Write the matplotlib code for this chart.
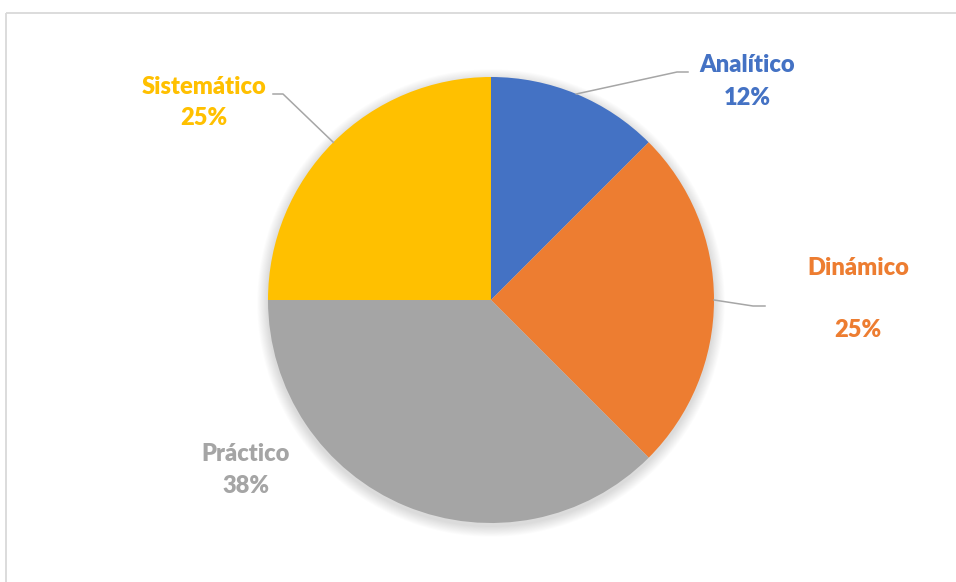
import numpy as np
import matplotlib
matplotlib.use("Agg")
import matplotlib.pyplot as plt
from matplotlib.patches import Circle

categories = ["Analítico", "Dinámico", "Práctico", "Sistemático"]
values = [12.5, 25, 37.5, 25]
pct_labels = ["12%", "25%", "38%", "25%"]
colors = ["#4472C4", "#ED7D31", "#A5A5A5", "#FFC000"]

W, H = 956, 582
fig = plt.figure(figsize=(W / 100, H / 100), dpi=100)
ax = fig.add_axes([0, 0, 1, 1])
ax.set_xlim(0, W)
ax.set_ylim(0, H)
ax.set_aspect("equal")
ax.axis("off")

def Y(y):
    return H - y

cx, cy, R = 491, Y(300), 223

# soft shadow
for k in range(12, 0, -1):
    ax.add_patch(Circle((cx, cy - 3), R + k * 0.9, color="#000000", alpha=0.012, lw=0, zorder=1))

wedges, _ = ax.pie(values, colors=colors, startangle=90, counterclock=False,
                   center=(cx, cy), radius=R, frame=True,
                   wedgeprops=dict(linewidth=0, zorder=2))
ax.set_xlim(0, W)
ax.set_ylim(0, H)
ax.axis("off")

# border (top and left)
ax.plot([6, W], [Y(13), Y(13)], color="#D9D9D9", lw=1.3, zorder=0, solid_capstyle="butt")
ax.plot([6, 6], [Y(13), 0], color="#D9D9D9", lw=1.3, zorder=0, solid_capstyle="butt")

def mid_point(i):
    w = wedges[i]
    ang = np.deg2rad((w.theta1 + w.theta2) / 2)
    return cx + R * np.cos(ang), cy + R * np.sin(ang)

# label layout (pixel coords, y from top)
label_pos = {
    0: ((747, 65), (747, 98)),
    1: ((858, 268), (858, 330)),
    2: ((246, 454), (246, 486)),
    3: ((204, 87), (204, 118)),
}
leaders = {
    0: [(677, 72), (688, 72)],
    1: [(753, 306), (765, 306)],
    3: [(283, 94), (273, 94)],
}

for i, (name, pct, col) in enumerate(zip(categories, pct_labels, colors)):
    (nx, ny), (px, py) = label_pos[i]
    ax.text(nx, Y(ny), name, color=col, fontsize=17, fontweight="heavy",
            family=["Lato", "DejaVu Sans"], ha="center", va="center", zorder=5)
    ax.text(px, Y(py), pct, color=col, fontsize=17, fontweight="heavy",
            family=["Lato", "DejaVu Sans"], ha="center", va="center", zorder=5)
    if i in leaders:
        mx, my = mid_point(i)
        xs = [mx] + [p[0] for p in leaders[i]]
        ys = [my] + [Y(p[1]) for p in leaders[i]]
        ax.plot(xs, ys, color="#A6A6A6", lw=1.1, zorder=3)

fig.savefig("out.png", dpi=100, facecolor="white")
